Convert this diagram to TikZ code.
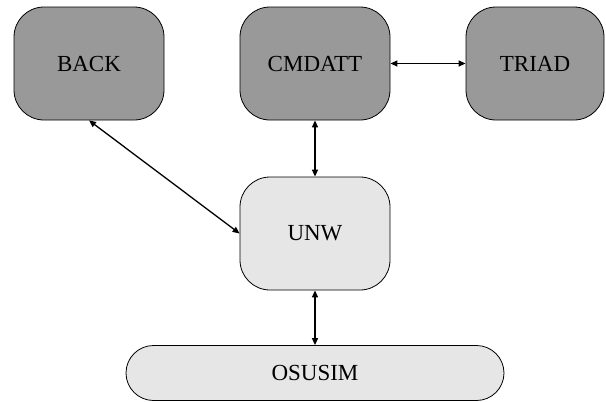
\documentclass[tikz,border=0pt]{standalone}
\usepackage{fontspec}
\setmainfont{Liberation Serif}
\usetikzlibrary{arrows.meta}
\definecolor{darkbox}{RGB}{153,153,153}
\definecolor{lightbox}{RGB}{230,230,230}
\begin{document}
\begin{tikzpicture}[x=1pt,y=-1pt,
  module/.style={draw=black, line width=0.8pt, rounded corners=30pt,
    minimum width=150pt, minimum height=113pt, inner sep=0pt,
    font=\fontsize{23}{27}\selectfont},
  outer/.style={module, fill=darkbox},
  inner/.style={module, fill=lightbox},
  link/.style={line width=1.3pt, {Triangle[length=7pt,width=6pt]}-{Triangle[length=7pt,width=6pt]}}]
  \useasboundingbox (0,0) rectangle (606,402);
  \node[outer] (back) at (89,63.5) {BACK};
  \node[outer] (cmdatt) at (315,63.5) {CMDATT};
  \node[outer, minimum width=138pt] (triad) at (535,63.5) {TRIAD};
  \node[inner] (unw) at (315,233.5) {UNW};
  \node[inner, minimum width=378pt, minimum height=55pt, rounded corners=27.5pt] (osusim) at (315,373) {OSUSIM};
  \draw[link] (cmdatt.east) -- (triad.west);
  \draw[link] (cmdatt.south) -- (unw.north);
  \draw[link] (back.south) -- (unw.west);
  \draw[link] (unw.south) -- (osusim.north);
\end{tikzpicture}
\end{document}
